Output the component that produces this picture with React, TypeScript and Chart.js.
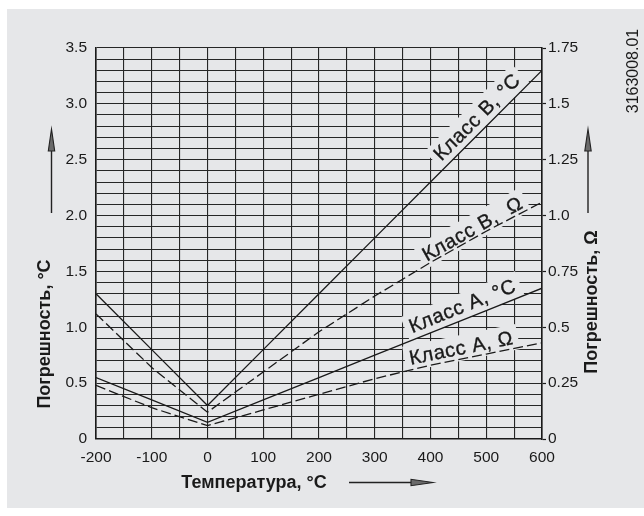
import React, { useEffect, useRef } from 'react';
import { Chart, registerables } from 'chart.js';

Chart.register(...registerables);

// ---- data ----
const temperatures = [-200, -100, 0, 100, 200, 300, 400, 500, 600];
const classBCelsius = [1.3, 0.8, 0.3, 0.8, 1.3, 1.8, 2.3, 2.8, 3.3];
const classBOhm = [0.56, 0.32, 0.12, 0.3, 0.48, 0.64, 0.79, 0.93, 1.06];
const classACelsius = [0.55, 0.35, 0.15, 0.35, 0.55, 0.75, 0.95, 1.15, 1.35];
const classAOhm = [0.24, 0.14, 0.06, 0.13, 0.2, 0.27, 0.33, 0.38, 0.43];
const seriesLabels = ['Класс B, °C', 'Класс B,  Ω', 'Класс A, °C', 'Класс A, Ω'];
const xTickLabels = ['-200', '-100', '0', '100', '200', '300', '400', '500', '600'];
const leftTickLabels = ['0', '0.5', '1.0', '1.5', '2.0', '2.5', '3.0', '3.5'];
const rightTickLabels = ['0', '0.25', '0.5', '0.75', '1.0', '1.25', '1.5', '1.75'];
const xTitle = 'Температура, °C';
const leftTitle = 'Погрешность, °C';
const rightTitle = 'Погрешность, Ω';
const docNumber = '3163008.01';

// ---- styles ----
const BG = '#e6e7e9';
const INK = '#1a1a1a';
const GRID = '#262626';
const FONT = "'Liberation Sans', Arial, sans-serif";

// where each in-plot label sits: dataset index, temperature along the line, offset above the line (px)
const labelSpecs = [
  { dataset: 0, at: 500, offset: 13 },
  { dataset: 1, at: 483, offset: 9 },
  { dataset: 2, at: 466, offset: 13 },
  { dataset: 3, at: 459, offset: 11 },
];
const LABEL_FONT_SIZE = 20;

function labelGeom(chart: any, spec: { dataset: number; at: number; offset: number }) {
  const ds = chart.data.datasets[spec.dataset];
  const xs = chart.scales.x;
  const ys = chart.scales[ds.yAxisID || 'y'];
  const pts = ds.data as { x: number; y: number }[];
  let i = 0;
  while (i < pts.length - 2 && pts[i + 1].x < spec.at) i++;
  const x0 = xs.getPixelForValue(pts[i].x);
  const y0 = ys.getPixelForValue(pts[i].y);
  const x1 = xs.getPixelForValue(pts[i + 1].x);
  const y1 = ys.getPixelForValue(pts[i + 1].y);
  const f = (spec.at - pts[i].x) / (pts[i + 1].x - pts[i].x);
  const fx = x0 + f * (x1 - x0);
  const fy = y0 + f * (y1 - y0);
  const ang = Math.atan2(y1 - y0, x1 - x0);
  const nx = Math.sin(ang);
  const ny = -Math.cos(ang);
  return { cx: fx + nx * spec.offset, cy: fy + ny * spec.offset, ang };
}

function drawLabels(chart: any, mode: 'box' | 'text') {
  const ctx = chart.ctx as CanvasRenderingContext2D;
  labelSpecs.forEach((spec, k) => {
    const text = seriesLabels[k];
    const g = labelGeom(chart, spec);
    ctx.save();
    ctx.font = `${LABEL_FONT_SIZE}px ${FONT}`;
    (ctx as any).letterSpacing = '0.6px';
    ctx.translate(g.cx, g.cy);
    ctx.rotate(g.ang);
    const w = ctx.measureText(text).width;
    const h = LABEL_FONT_SIZE * 0.78;
    if (mode === 'box') {
      const pad = 5;
      ctx.fillStyle = BG;
      ctx.fillRect(-w / 2 - pad, -h / 2 - pad, w + 2 * pad, h + 2 * pad);
    } else {
      ctx.fillStyle = INK;
      ctx.strokeStyle = INK;
      ctx.lineWidth = 0.35;
      ctx.textAlign = 'center';
      ctx.textBaseline = 'middle';
      ctx.fillText(text, 0, 1);
      ctx.strokeText(text, 0, 1);
    }
    ctx.restore();
  });
}

function arrow(ctx: CanvasRenderingContext2D, x0: number, y0: number, x1: number, y1: number) {
  const ang = Math.atan2(y1 - y0, x1 - x0);
  const headLen = 22;
  const headHalf = 3.2;
  ctx.save();
  ctx.strokeStyle = '#222';
  ctx.lineWidth = 1.4;
  ctx.beginPath();
  ctx.moveTo(x0, y0);
  ctx.lineTo(x1 - Math.cos(ang) * headLen * 0.5, y1 - Math.sin(ang) * headLen * 0.5);
  ctx.stroke();
  ctx.translate(x1, y1);
  ctx.rotate(ang);
  ctx.beginPath();
  ctx.moveTo(0, 0);
  ctx.lineTo(-headLen, -headHalf);
  ctx.lineTo(-headLen, headHalf);
  ctx.closePath();
  ctx.fillStyle = '#6a6a6a';
  ctx.fill();
  ctx.lineWidth = 1.1;
  ctx.stroke();
  ctx.restore();
}

function rotatedText(ctx: CanvasRenderingContext2D, text: string, x: number, y: number, font: string) {
  ctx.save();
  ctx.translate(x, y);
  ctx.rotate(-Math.PI / 2);
  ctx.font = font;
  ctx.fillStyle = INK;
  ctx.textAlign = 'center';
  ctx.textBaseline = 'middle';
  ctx.fillText(text, 0, 0);
  ctx.restore();
}

const backgroundPlugin = {
  id: 'panelBackground',
  beforeDraw(chart: any) {
    const ctx = chart.ctx as CanvasRenderingContext2D;
    ctx.save();
    ctx.fillStyle = '#ffffff';
    ctx.fillRect(0, 0, chart.width, chart.height);
    ctx.fillStyle = BG;
    ctx.fillRect(7, 9, chart.width - 7, 499);
    ctx.restore();
  },
};

const labelPlugin = {
  id: 'lineLabels',
  beforeDatasetsDraw(chart: any) {
    drawLabels(chart, 'box');
  },
  afterDatasetsDraw(chart: any) {
    drawLabels(chart, 'text');
  },
};

const decorPlugin = {
  id: 'decor',
  afterDraw(chart: any) {
    const ctx = chart.ctx as CanvasRenderingContext2D;
    const a = chart.chartArea;
    const bold = `bold 18px ${FONT}`;
    rotatedText(ctx, leftTitle, a.left - 51, 334, bold);
    rotatedText(ctx, rightTitle, a.right + 50, 302, bold);
    rotatedText(ctx, docNumber, 634, 71, `16px ${FONT}`);
    ctx.save();
    ctx.font = bold;
    ctx.fillStyle = INK;
    ctx.textAlign = 'center';
    ctx.textBaseline = 'middle';
    ctx.fillText(xTitle, 254, 483);
    ctx.restore();
    arrow(ctx, a.left - 44.5, 213, a.left - 44.5, 129);
    arrow(ctx, a.right + 46, 213, a.right + 46, 129);
    arrow(ctx, 349, 482.5, 433, 482.5);
  },
};

function toPoints(values: number[]) {
  return temperatures.map((t, i) => ({ x: t, y: values[i] }));
}

export default function App() {
  const ref = useRef<HTMLCanvasElement | null>(null);

  useEffect(() => {
    if (!ref.current) return;
    Chart.defaults.font.family = FONT;
    Chart.defaults.color = INK;
    const solid = { borderColor: INK, borderWidth: 1.3, pointRadius: 0, tension: 0, fill: false };
    const dashed = { ...solid, borderDash: [10, 4] };
    const chart = new Chart(ref.current, {
      type: 'line',
      data: {
        datasets: [
          { label: seriesLabels[0], data: toPoints(classBCelsius), yAxisID: 'y', ...solid },
          { label: seriesLabels[1], data: toPoints(classBOhm), yAxisID: 'y2', ...dashed },
          { label: seriesLabels[2], data: toPoints(classACelsius), yAxisID: 'y', ...solid },
          { label: seriesLabels[3], data: toPoints(classAOhm), yAxisID: 'y2', ...dashed },
        ] as any,
      },
      options: {
        responsive: false,
        animation: false,
        events: [],
        layout: { padding: { top: 48, left: 0, right: 0, bottom: 0 } },
        plugins: { legend: { display: false }, tooltip: { enabled: false }, title: { display: false } },
        scales: {
          x: {
            type: 'linear',
            min: -200,
            max: 600,
            afterFit(scale: any) {
              scale.height = 77;
            },
            grid: { color: GRID, lineWidth: 1.1, drawTicks: false },
            border: { color: INK, width: 1.6 },
            ticks: {
              stepSize: 50,
              autoSkip: false,
              maxRotation: 0,
              padding: 9,
              font: { size: 15.5 },
              color: INK,
              callback(v: any) {
                const idx = Math.round((Number(v) + 200) / 100);
                return Math.abs(Number(v) - (idx * 100 - 200)) < 1e-6 ? xTickLabels[idx] : '';
              },
            },
          },
          y: {
            type: 'linear',
            position: 'left',
            min: 0,
            max: 3.5,
            afterFit(scale: any) {
              scale.width = 96;
            },
            grid: { color: GRID, lineWidth: 1.1, drawTicks: false },
            border: { color: INK, width: 1.6 },
            ticks: {
              stepSize: 0.1,
              autoSkip: false,
              padding: 9,
              font: { size: 15.5 },
              color: INK,
              callback(v: any) {
                const k = Math.round(Number(v) * 10);
                return k % 5 === 0 ? leftTickLabels[k / 5] : '';
              },
            },
          },
          y2: {
            type: 'linear',
            position: 'right',
            min: 0,
            max: 1.75,
            afterFit(scale: any) {
              scale.width = 102;
            },
            grid: { drawOnChartArea: false, drawTicks: true, tickLength: 4, tickColor: INK, tickWidth: 1.2 },
            border: { color: INK, width: 1.6 },
            ticks: {
              stepSize: 0.25,
              autoSkip: false,
              padding: 2,
              font: { size: 15.5 },
              color: INK,
              callback(v: any) {
                const k = Math.round(Number(v) * 4);
                return rightTickLabels[k] ?? '';
              },
            },
          },
        },
      } as any,
      plugins: [backgroundPlugin, labelPlugin, decorPlugin],
    });
    return () => chart.destroy();
  }, []);

  return (
    <div style={{ position: 'fixed', left: 0, top: 0, width: 644, height: 516 }}>
      <canvas ref={ref} width={644} height={516} style={{ display: 'block', width: 644, height: 516 }} />
    </div>
  );
}
